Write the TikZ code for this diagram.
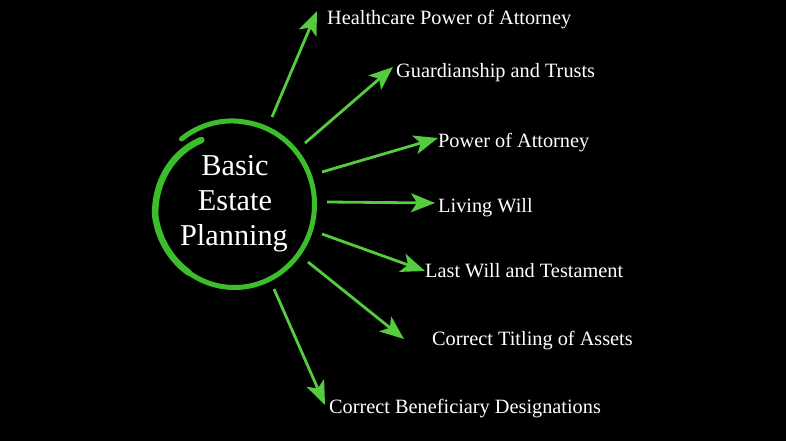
\documentclass[tikz,border=0pt]{standalone}
\usepackage{fontspec}
\setmainfont{Liberation Serif}
\usetikzlibrary{arrows.meta}
\definecolor{ringgreen}{HTML}{3CBE2C}
\definecolor{arrgreen}{HTML}{55CC40}
\tikzset{
  lbl/.style={anchor=base west, text=white, font=\fontsize{20.3}{24}\selectfont, inner sep=0pt},
  ctext/.style={anchor=base, text=white, font=\fontsize{30.3}{35}\selectfont, inner sep=0pt},
  conn/.style={draw=arrgreen, line width=2.8pt, -{Stealth[length=24pt, width=19pt, inset=6pt]}},
}
\begin{document}
\begin{tikzpicture}[x=1pt, y=-1pt]
\fill[black] (0,0) rectangle (786,441);
\useasboundingbox (0,0) rectangle (786,441);
% ring
\coordinate (c) at (234.5,204.5);
\draw[ringgreen, line width=5pt, line cap=round] plot[domain=200:490, samples=140, smooth] ({234.5+(80+2.5*max(0,(\x-440)/50))*cos(\x)}, {204.5-(83+2.5*max(0,(\x-440)/50))*sin(\x)});
\draw[ringgreen, line width=6.5pt, line cap=round] plot[domain=118:235, samples=70, smooth] ({234.5+80*(0.88+0.12*min(1,(\x-118)/70))*cos(\x)}, {204.5-83*(0.88+0.12*min(1,(\x-118)/70))*sin(\x)});
\node[ctext] (n1) at (235,175) {Basic};
\node[ctext] (n2) at (235,210) {Estate};
\node[ctext] (n3) at (234,245) {Planning};
% labels
\node[lbl] (l1) at (327,25) {Healthcare Power of Attorney};
\node[lbl] (l2) at (396,78) {Guardianship and Trusts};
\node[lbl] (l3) at (438,147) {Power of Attorney};
\node[lbl] (l4) at (438,212) {Living Will};
\node[lbl] (l5) at (425,277) {Last Will and Testament};
\node[lbl] (l6) at (432,345) {Correct Titling of Assets};
\node[lbl] (l7) at (329,413) {Correct Beneficiary Designations};
% arrow ends
\coordinate (t1) at (272,117); \coordinate (h1) at (317,11);
\coordinate (t2) at (305,143); \coordinate (h2) at (393,67);
\coordinate (t3) at (322,172); \coordinate (h3) at (438,138);
\coordinate (t4) at (327,202); \coordinate (h4) at (435,203);
\coordinate (t5) at (322,234); \coordinate (h5) at (425,271);
\coordinate (t6) at (308,262); \coordinate (h6) at (404,339);
\coordinate (t7) at (274,289); \coordinate (h7) at (325,405);
\foreach \i in {1,...,7} { \draw[conn] (t\i) -- (h\i); }
\end{tikzpicture}
\end{document}
